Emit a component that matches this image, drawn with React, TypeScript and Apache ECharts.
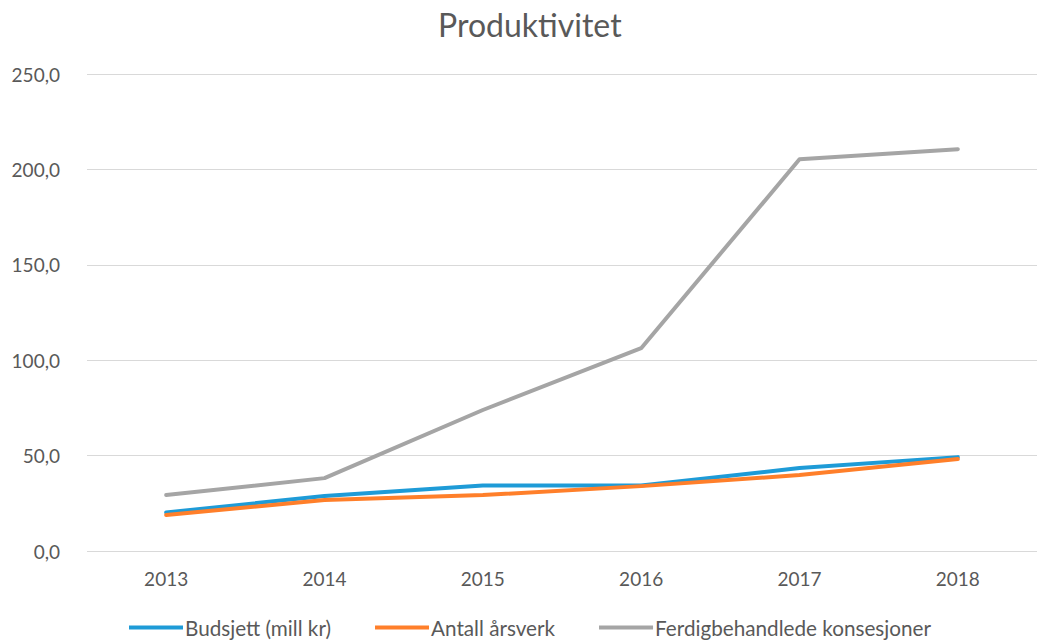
import React, { useEffect, useRef } from "react";
import * as echarts from "echarts";

const years = ["2013", "2014", "2015", "2016", "2017", "2018"];
const budsjett = [20.2, 28.8, 34.3, 34.3, 43.5, 49.2];
const arsverk = [18.9, 26.7, 29.3, 34.0, 39.8, 48.2];
const konsesjoner = [29.3, 38.2, 73.9, 106.3, 205.3, 210.6];
const seriesNames = ["Budsjett (mill kr)", "Antall årsverk", "Ferdigbehandlede konsesjoner"];
const colors = ["#1E9BD7", "#FF7F2A", "#A5A5A5"];

const FONT = "Lato, 'Open Sans', sans-serif";

export default function App() {
  const ref = useRef<HTMLDivElement>(null);
  useEffect(() => {
    if (!ref.current) return;
    const chart = echarts.init(ref.current, null, { renderer: "svg" });
    const data = [budsjett, arsverk, konsesjoner];
    chart.setOption({
      animation: false,
      backgroundColor: "#ffffff",
      title: {
        text: "Produktivitet",
        left: 433,
        top: 3,
        textStyle: { fontFamily: FONT, fontSize: 32, fontWeight: "normal", color: "#595959" },
      },
      legend: {
        bottom: 1,
        left: 124,
        icon: "rect",
        itemWidth: 54,
        itemHeight: 4,
        itemGap: 44,
        textStyle: { fontFamily: FONT, fontSize: 20.7, color: "#595959", padding: [0, 0, 0, -3] },
        data: seriesNames,
      },
      grid: { left: 87, top: 74, width: 954, height: 477, containLabel: false },
      xAxis: {
        type: "category",
        data: years,
        boundaryGap: true,
        axisLine: { show: false },
        axisTick: { show: false },
        axisLabel: { fontFamily: FONT, fontSize: 19, color: "#595959", margin: 18 },
      },
      yAxis: {
        type: "value",
        min: 0,
        max: 250,
        interval: 50,
        axisLine: { show: false },
        axisTick: { show: false },
        splitLine: { lineStyle: { color: "#D9D9D9", width: 1 } },
        axisLabel: {
          fontFamily: FONT,
          fontSize: 19,
          color: "#595959",
          margin: 27,
          formatter: (v: number) => v.toFixed(1).replace(".", ","),
        },
      },
      series: seriesNames.map((name, i) => ({
        name,
        type: "line",
        data: data[i],
        symbol: "none",
        lineStyle: { width: 4, color: colors[i], cap: "round", join: "round" },
        itemStyle: { color: colors[i] },
      })),
    });
    return () => chart.dispose();
  }, []);
  return (
    <div
      ref={ref}
      style={{ position: "fixed", left: 0, top: 0, width: 1037, height: 644 }}
    />
  );
}
